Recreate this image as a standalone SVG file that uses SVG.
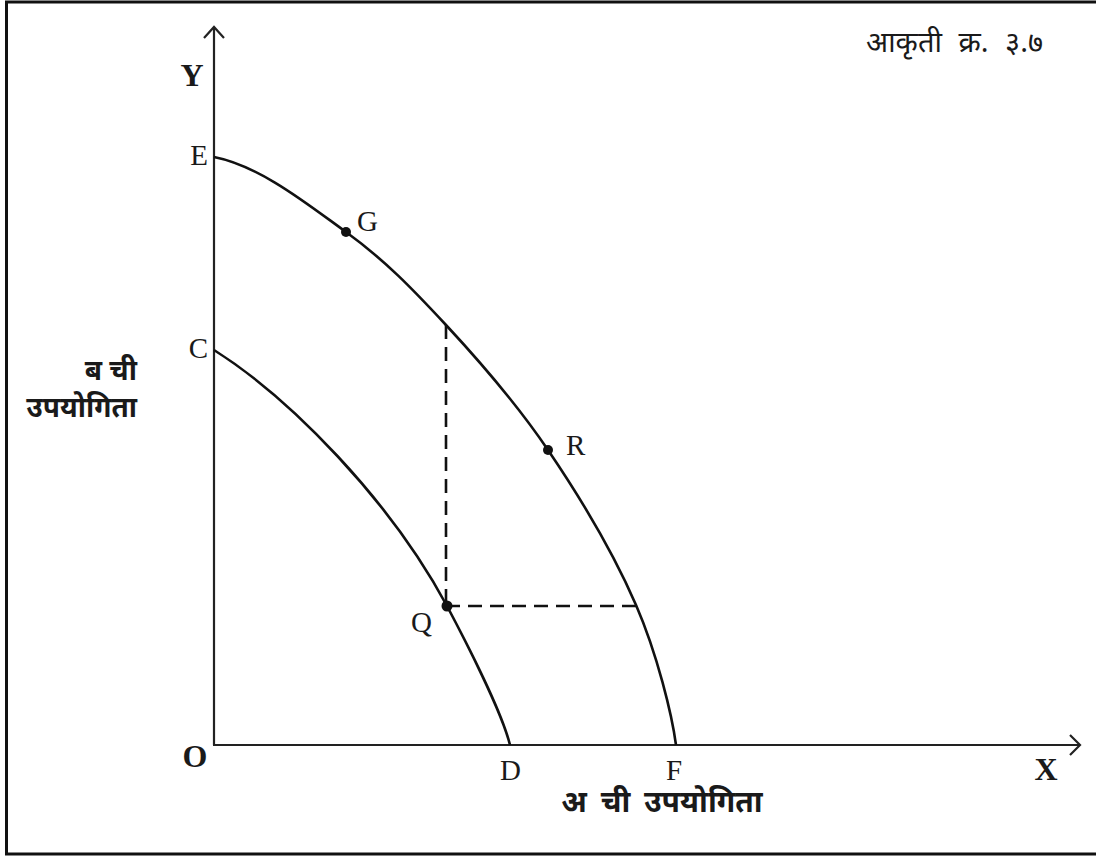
<svg xmlns="http://www.w3.org/2000/svg" width="1096" height="857" viewBox="0 0 1096 857">
<style>
.lbl{font-family:"Liberation Serif",serif;font-size:29px;fill:#1a1a1a}
.bl{font-family:"Liberation Serif",serif;font-size:32px;font-weight:bold;fill:#1a1a1a}
.dev{font-family:"Noto Sans Devanagari","Noto Sans","Lohit Devanagari",sans-serif;font-size:29px;fill:#1a1a1a}
.devb{font-family:"Noto Sans Devanagari","Noto Sans","Lohit Devanagari",sans-serif;font-weight:bold;fill:#1a1a1a}
.ax{stroke:#222;stroke-width:2.2;fill:none}
.cv{stroke:#111;stroke-width:2.6;fill:none}
.ds{stroke:#111;stroke-width:2.6;fill:none;stroke-dasharray:14 8}
.dot{fill:#111}
</style>
<rect x="6.5" y="2" width="1100" height="852" fill="#fff" stroke="#111" stroke-width="3"/>
<g id="axes">
<line class="ax" x1="214" y1="28" x2="214" y2="745"/>
<line class="ax" x1="213" y1="745" x2="1080" y2="745"/>
<polyline class="ax" points="204,38 214,27 224,38"/>
<polyline class="ax" points="1070,735 1080,745 1070,755"/>
</g>
<g id="connectors">
<path id="curve-EF" class="cv" d="M214,157 C260,166 307.3,204 346,232 C384.7,260 412.3,288.7 446,325 C479.7,361.3 516.3,403.3 548,450 C579.7,496.7 614.7,555.8 636,605 C657.3,654.2 672,715 676,745"/>
<path id="curve-CD" class="cv" d="M214,350 C290,398 390,500 447,606 C464,638 502,712 510,745"/>
<line class="ds" x1="446" y1="325" x2="446" y2="606"/>
<line class="ds" x1="446" y1="606" x2="636" y2="606"/>
</g>
<g id="point-G"><circle class="dot" cx="346" cy="232" r="5"/><text class="lbl" x="357" y="231">G</text></g>
<g id="point-R"><circle class="dot" cx="548" cy="450" r="5"/><text class="lbl" x="566" y="455">R</text></g>
<g id="point-Q"><circle class="dot" cx="447" cy="606" r="5.5"/><text class="lbl" x="411" y="632">Q</text></g>
<g id="label-E"><text class="lbl" x="208" y="165" text-anchor="end">E</text></g>
<g id="label-C"><text class="lbl" x="208" y="358" text-anchor="end">C</text></g>
<g id="label-D"><text class="lbl" x="500" y="780">D</text></g>
<g id="label-F"><text class="lbl" x="666" y="780">F</text></g>
<g id="label-Y"><text class="bl" x="192" y="86" text-anchor="middle">Y</text></g>
<g id="label-X"><text class="bl" x="1046" y="780" text-anchor="middle">X</text></g>
<g id="label-O"><text class="bl" x="195" y="767" text-anchor="middle">O</text></g>
<g id="title"><text class="dev" x="1043" y="52" text-anchor="end" word-spacing="9">आकृती क्र. ३.७</text></g>
<g id="y-title"><text class="devb" font-size="28" x="137" y="380" text-anchor="end">ब ची</text><text class="devb" font-size="28" x="137" y="417" text-anchor="end">उपयोगिता</text></g>
<g id="x-title"><text class="devb" font-size="30" x="662" y="812" text-anchor="middle" word-spacing="6">अ ची उपयोगिता</text></g>
</svg>
